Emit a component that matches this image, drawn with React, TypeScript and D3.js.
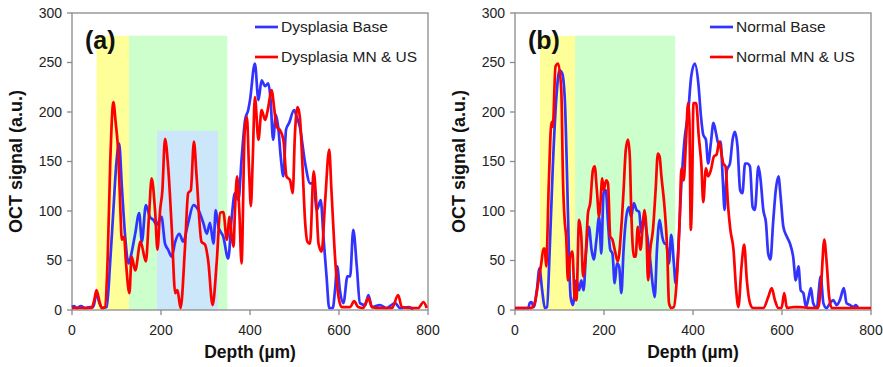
import * as d3 from "d3"

// OCT depth profiles, depth in µm, signal in a.u.
const xTicks = [0, 200, 400, 600, 800]
const yTicks = [0, 50, 100, 150, 200, 250, 300]

const dysplasiaBase: [number, number][] = [
  [0, 3], [5, 4], [10, 2], [20, 4], [30, 2], [40, 3], [48, 3], [55, 17], [61, 8], [67, 2], [78, 3], [86, 50],
  [93, 101], [100, 150], [106, 168], [112, 125], [119, 77], [127, 47], [132, 54], [142, 77], [151, 98], [157, 69],
  [166, 106], [175, 94], [183, 91], [190, 86], [201, 94], [209, 67], [216, 61], [224, 54], [232, 69], [241, 77],
  [250, 69], [261, 88], [273, 106], [284, 101], [295, 88], [303, 77], [310, 88], [318, 67], [323, 101], [329, 84],
  [340, 74], [351, 52], [359, 94], [366, 118], [374, 111], [381, 152], [389, 192], [396, 202], [400, 212], [411, 249],
  [419, 212], [426, 232], [434, 226], [441, 229], [446, 214], [452, 172], [458, 197], [464, 182], [469, 155], [475, 135],
  [481, 182], [488, 189], [499, 202], [505, 195], [512, 185], [524, 148], [535, 128], [543, 128], [550, 101], [559, 111],
  [565, 74], [572, 34], [578, 2], [586, 2], [591, 20], [596, 44], [602, 20], [610, 7], [619, 34], [625, 34], [632, 81],
  [640, 44], [647, 7], [659, 5], [666, 15], [674, 3], [692, 5], [707, 2], [726, 7], [737, 2], [756, 3], [767, 1],
]

const dysplasiaTreated: [number, number][] = [
  [0, 2], [10, 2], [20, 2], [30, 2], [44, 2], [50, 10], [55, 20], [61, 10], [67, 2], [74, 3], [80, 50], [86, 150],
  [93, 210], [98, 190], [104, 158], [108, 110], [112, 71], [117, 74], [121, 50], [129, 17], [134, 54], [142, 40],
  [154, 69], [166, 49], [173, 95], [179, 133], [187, 98], [192, 61], [198, 101], [203, 120], [209, 173], [216, 145],
  [224, 84], [232, 17], [237, 20], [244, 2], [254, 64], [261, 118], [267, 121], [274, 170], [280, 135], [291, 69],
  [299, 66], [306, 50], [316, 5], [325, 47], [333, 98], [340, 99], [348, 71], [354, 94], [359, 74], [363, 64],
  [366, 98], [371, 135], [376, 100], [381, 47], [388, 180], [393, 195], [398, 140], [402, 105], [406, 150], [411, 215],
  [419, 172], [426, 202], [434, 192], [439, 200], [449, 222], [454, 205], [460, 185], [467, 182], [475, 172], [482, 135],
  [490, 131], [496, 118], [501, 178], [507, 205], [512, 195], [518, 145], [524, 88], [529, 69], [535, 67], [543, 140],
  [549, 108], [554, 67], [561, 59], [569, 111], [578, 162], [583, 121], [591, 54], [599, 13], [606, 3], [617, 3],
  [625, 3], [634, 9], [643, 3], [654, 2], [666, 12], [674, 3], [685, 2], [700, 2], [719, 2], [733, 15], [741, 3],
  [759, 2], [778, 2], [790, 8], [797, 2],
]

const normalBase: [number, number][] = [
  [0, 2], [10, 2], [20, 2], [30, 2], [33, 7], [37, 8], [42, 3], [49, 20], [55, 42], [61, 20], [67, 2], [72, 3],
  [78, 61], [85, 145], [93, 215], [100, 242], [106, 239], [112, 212], [117, 135], [121, 61], [125, 13], [130, 5],
  [138, 30], [144, 20], [149, 30], [154, 20], [160, 61], [166, 84], [172, 61], [177, 51], [183, 71], [189, 94],
  [194, 57], [199, 118], [204, 121], [209, 88], [214, 61], [219, 57], [224, 27], [229, 47], [234, 44], [239, 17],
  [244, 61], [250, 94], [256, 104], [261, 94], [267, 108], [273, 101], [279, 99], [284, 77], [289, 93], [295, 81],
  [303, 54], [309, 27], [314, 13], [319, 61], [325, 91], [331, 74], [336, 67], [340, 67], [346, 47], [351, 76],
  [357, 47], [361, 27], [366, 54], [374, 128], [381, 172], [389, 199], [396, 236], [404, 249], [412, 229], [418, 195],
  [423, 177], [429, 172], [434, 148], [440, 168], [446, 189], [452, 178], [457, 168], [462, 170], [467, 131], [471, 101],
  [476, 141], [483, 148], [489, 172], [494, 180], [500, 165], [506, 121], [511, 118], [517, 148], [522, 148], [528, 145],
  [534, 104], [539, 101], [547, 145], [552, 131], [558, 101], [564, 88], [569, 57], [574, 51], [580, 88], [586, 121],
  [592, 135], [597, 114], [603, 84], [611, 74], [618, 67], [625, 54], [631, 30], [637, 44], [642, 20], [648, 17],
  [654, 3], [660, 13], [665, 22], [670, 7], [678, 2], [687, 34], [693, 7], [700, 2], [708, 7], [715, 10], [723, 5],
  [730, 10], [739, 22], [745, 7], [753, 5], [760, 3], [766, 5], [771, 2],
]

const normalTreated: [number, number][] = [
  [0, 2], [10, 2], [20, 2], [33, 2], [40, 3], [46, 10], [52, 27], [59, 47], [64, 62], [67, 62], [70, 44], [76, 128],
  [82, 190], [85, 185], [91, 246], [97, 249], [104, 222], [108, 128], [112, 88], [115, 74], [119, 30], [124, 54],
  [129, 59], [134, 13], [138, 10], [144, 91], [149, 74], [153, 34], [159, 57], [164, 98], [169, 108], [175, 141],
  [179, 145], [184, 121], [189, 94], [192, 108], [196, 133], [199, 121], [205, 131], [209, 128], [214, 74], [219, 71],
  [224, 61], [231, 49], [239, 84], [244, 121], [249, 162], [254, 172], [258, 155], [261, 104], [267, 54], [271, 54],
  [276, 84], [282, 61], [288, 91], [291, 101], [295, 84], [299, 30], [304, 61], [310, 81], [316, 121], [321, 158],
  [325, 155], [329, 135], [336, 104], [342, 61], [346, 7], [351, 2], [357, 3], [363, 27], [370, 91], [374, 143],
  [379, 131], [384, 168], [389, 209], [392, 190], [395, 81], [398, 120], [401, 209], [407, 209], [413, 175], [419, 145],
  [423, 109], [429, 143], [434, 135], [440, 141], [447, 155], [453, 157], [459, 170], [465, 155], [468, 148], [473, 145],
  [479, 104], [484, 81], [491, 61], [497, 20], [502, 3], [509, 44], [515, 66], [521, 30], [528, 7], [535, 2], [558, 2],
  [569, 13], [577, 22], [584, 10], [592, 2], [599, 2], [605, 17], [611, 2], [626, 3], [641, 3], [663, 2], [681, 2],
  [688, 27], [695, 71], [700, 50], [706, 13], [712, 2], [750, 2], [800, 2],
]

// shaded depth ranges [from, to, top] in µm / a.u.
const bandsA: [number, number, number][] = [[55, 128, 277], [128, 349, 277], [191, 328, 181]]
const bandsB: [number, number, number][] = [[56, 135, 277], [135, 360, 277]]
const bandColors = ["#ffff99", "#ccffcc", "#cce6fa"]

const FONT = "'Liberation Sans', Arial, sans-serif"
const BLUE = "#3333ff"
const RED = "#ff0000"
const GRID = "#8a8a8a"

interface PanelProps {
  left: number
  label: string
  base: [number, number][]
  treated: [number, number][]
  baseName: string
  treatedName: string
  bands: [number, number, number][]
  legendX: number
}

function Panel({ left, label, base, treated, baseName, treatedName, bands, legendX }: PanelProps) {
  const x = d3.scaleLinear().domain([0, 800]).range([left, left + 356])
  const y = d3.scaleLinear().domain([0, 300]).range([310, 13])
  const line = d3.line<[number, number]>()
    .x(d => x(d[0]))
    .y(d => y(d[1]))
    .curve(d3.curveMonotoneX)
  const [x0, x1] = x.range()
  const [y0, y1] = y.range()

  return (
    <g fontFamily={FONT}>
      {bands.map((b, i) => (
        <rect key={i} x={x(b[0])} y={y(b[2])} width={x(b[1]) - x(b[0])} height={y(0) - y(b[2])} fill={bandColors[i]} />
      ))}
      <rect x={x0} y={y1} width={x1 - x0} height={y0 - y1} fill="none" stroke={GRID} strokeWidth={1.3} />

      {yTicks.map(t => (
        <g key={t}>
          <line x1={x0 - 5} x2={x0} y1={y(t)} y2={y(t)} stroke={GRID} strokeWidth={1.3} />
          <text x={x0 - 10} y={y(t)} dy="0.35em" textAnchor="end" fontSize={14} fill="#222">{t}</text>
        </g>
      ))}
      {xTicks.map(t => (
        <g key={t}>
          <line x1={x(t)} x2={x(t)} y1={y0} y2={y0 + 5} stroke={GRID} strokeWidth={1.3} />
          <text x={x(t)} y={335} textAnchor="middle" fontSize={14} fill="#222">{t}</text>
        </g>
      ))}

      <path d={line(base) ?? ""} fill="none" stroke={BLUE} strokeWidth={2.7} strokeLinejoin="round" />
      <path d={line(treated) ?? ""} fill="none" stroke={RED} strokeWidth={2.7} strokeLinejoin="round" />

      <text x={x0 + 13} y={49} fontSize={25} fontWeight="bold" fill="#111">{label}</text>

      <line x1={legendX} x2={legendX + 23} y1={27} y2={27} stroke={BLUE} strokeWidth={2.7} />
      <text x={legendX + 26} y={27} dy="0.35em" fontSize={15.5} fill="#222">{baseName}</text>
      <line x1={legendX} x2={legendX + 23} y1={57} y2={57} stroke={RED} strokeWidth={2.7} />
      <text x={legendX + 26} y={57} dy="0.35em" fontSize={15.5} fill="#222">{treatedName}</text>

      <text x={(x0 + x1) / 2} y={358} textAnchor="middle" fontSize={17.5} fontWeight="bold" fill="#111">Depth (µm)</text>
      <text transform={`translate(${x0 - 50},${(y0 + y1) / 2}) rotate(-90)`} textAnchor="middle" fontSize={18}
        fontWeight="bold" fill="#111">OCT signal (a.u.)</text>
    </g>
  )
}

export default function App() {
  return (
    <>
      <style>{`body{margin:0}`}</style>
      <svg width={883} height={367} style={{ display: "block", background: "#fff" }}>
        <Panel left={72} label="(a)" base={dysplasiaBase} treated={dysplasiaTreated}
          baseName="Dysplasia Base" treatedName="Dysplasia MN & US" bands={bandsA} legendX={255} />
        <Panel left={515} label="(b)" base={normalBase} treated={normalTreated}
          baseName="Normal Base" treatedName="Normal MN & US" bands={bandsB} legendX={710} />
      </svg>
    </>
  )
}
